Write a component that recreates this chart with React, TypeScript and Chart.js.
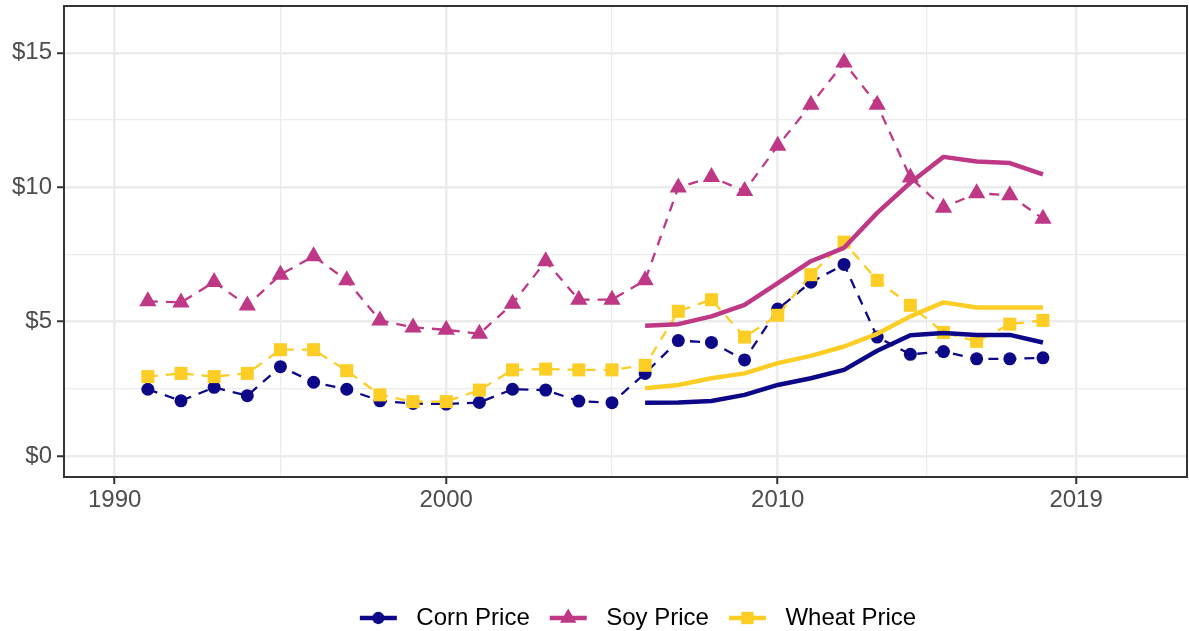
import React, { useEffect, useRef } from 'react';
import { Chart, registerables } from 'chart.js';

Chart.register(...registerables);

const FONT = '"Liberation Sans", Arial, Helvetica, sans-serif';

// ---- data ----
const years = [1991, 1992, 1993, 1994, 1995, 1996, 1997, 1998, 1999, 2000, 2001, 2002, 2003, 2004, 2005, 2006, 2007, 2008, 2009, 2010, 2011, 2012, 2013, 2014, 2015, 2016, 2017, 2018];
const cornPrice = [2.49, 2.06, 2.56, 2.25, 3.33, 2.75, 2.49, 2.06, 1.96, 1.94, 2.0, 2.49, 2.46, 2.05, 1.99, 3.08, 4.3, 4.23, 3.58, 5.47, 6.47, 7.13, 4.43, 3.79, 3.89, 3.62, 3.62, 3.66];
const soyPrice = [5.76, 5.72, 6.48, 5.6, 6.75, 7.44, 6.54, 5.05, 4.79, 4.7, 4.55, 5.67, 7.25, 5.82, 5.82, 6.54, 9.99, 10.38, 9.86, 11.54, 13.07, 14.64, 13.07, 10.36, 9.24, 9.78, 9.7, 8.83];
const wheatPrice = [2.96, 3.08, 2.96, 3.08, 3.96, 3.96, 3.18, 2.28, 2.03, 2.03, 2.46, 3.21, 3.24, 3.21, 3.21, 3.38, 5.39, 5.82, 4.43, 5.24, 6.75, 7.96, 6.54, 5.61, 4.6, 4.27, 4.91, 5.05];

const trendYears = [2006, 2007, 2008, 2009, 2010, 2011, 2012, 2013, 2014, 2015, 2016, 2017, 2018];
const cornTrend = [1.99, 2.0, 2.05, 2.28, 2.65, 2.9, 3.21, 3.92, 4.5, 4.58, 4.51, 4.51, 4.23];
const soyTrend = [4.85, 4.91, 5.2, 5.63, 6.44, 7.25, 7.75, 9.05, 10.17, 11.13, 10.96, 10.9, 10.48];
const wheatTrend = [2.53, 2.65, 2.9, 3.08, 3.46, 3.73, 4.08, 4.55, 5.2, 5.72, 5.53, 5.53, 5.53];

const seriesNames = ['Corn Price', 'Soy Price', 'Wheat Price'];

const xMajorTicks = [1990, 2000, 2010, 2019];
const xMinorTicks = [1995, 2005, 2014.5];
const yMajorTicks = [0, 5, 10, 15];
const yMinorTicks = [2.5, 7.5, 12.5];

// ---- styles ----
const COLORS = ['#0D0887', '#BE3885', '#FCCD25'];
const SHAPES = ['circle', 'triangle', 'rect'];
const RADII = [6.5, 10, 9.2];
const X_MIN = 1988.471;
const X_MAX = 2022.345;
const Y_MIN = -0.773;
const Y_MAX = 16.741;

const toXY = (xs: number[], ys: number[]) => xs.map((x, i) => ({ x, y: ys[i] }));

function drawMarker(ctx: CanvasRenderingContext2D, shape: string, x: number, y: number, r: number, color: string) {
  ctx.fillStyle = color;
  ctx.beginPath();
  if (shape === 'circle') {
    ctx.arc(x, y, r, 0, Math.PI * 2);
  } else if (shape === 'triangle') {
    ctx.moveTo(x, y - r);
    ctx.lineTo(x + r * Math.sin((2 * Math.PI) / 3), y - r * Math.cos((2 * Math.PI) / 3));
    ctx.lineTo(x - r * Math.sin((2 * Math.PI) / 3), y - r * Math.cos((2 * Math.PI) / 3));
    ctx.closePath();
  } else {
    const h = r * Math.SQRT1_2;
    ctx.rect(x - h, y - h, 2 * h, 2 * h);
  }
  ctx.fill();
}

const panelBorder = {
  id: 'panelBorder',
  afterDatasetsDraw(chart: any) {
    const { ctx, chartArea } = chart;
    ctx.save();
    ctx.strokeStyle = '#333333';
    ctx.lineWidth = 2;
    ctx.strokeRect(chartArea.left, chartArea.top, chartArea.right - chartArea.left, chartArea.bottom - chartArea.top);
    ctx.restore();
  },
};

const ggLegend = {
  id: 'ggLegend',
  afterDraw(chart: any) {
    const ctx: CanvasRenderingContext2D = chart.ctx;
    ctx.save();
    ctx.font = `24px ${FONT}`;
    ctx.textBaseline = 'middle';
    ctx.textAlign = 'left';
    const keyLen = 37;
    const textGap = 19.5;
    const itemGap = 20;
    const widths = seriesNames.map((n) => ctx.measureText(n).width);
    const total = widths.reduce((s, w) => s + keyLen + textGap + w, 0) + itemGap * (seriesNames.length - 1);
    const center = (chart.chartArea.left + chart.chartArea.right) / 2 + 12.5;
    let x = center - total / 2;
    const y = 618;
    seriesNames.forEach((name, i) => {
      ctx.strokeStyle = COLORS[i];
      ctx.lineWidth = 4.5;
      ctx.beginPath();
      ctx.moveTo(x, y);
      ctx.lineTo(x + keyLen, y);
      ctx.stroke();
      drawMarker(ctx, SHAPES[i], x + keyLen / 2, y, RADII[i] * 0.95, COLORS[i]);
      const tx = x + keyLen + textGap;
      ctx.fillStyle = '#000000';
      ctx.fillText(name, tx, y);
      x = tx + widths[i] + itemGap;
    });
    ctx.restore();
  },
};

const zeroPadding = (scale: any) => {
  scale.paddingTop = 0;
  scale.paddingBottom = 0;
  scale.paddingLeft = 0;
  scale.paddingRight = 0;
};

export default function App() {
  const canvasRef = useRef<HTMLCanvasElement | null>(null);

  useEffect(() => {
    document.body.style.margin = '0';
    const canvas = canvasRef.current;
    if (!canvas) return;
    Chart.defaults.font.family = FONT;

    const dashed = [cornPrice, soyPrice, wheatPrice].map((vals, i) => ({
      label: seriesNames[i],
      data: toXY(years, vals),
      borderColor: COLORS[i],
      backgroundColor: COLORS[i],
      borderWidth: 2.3,
      borderDash: [10, 8],
      pointStyle: SHAPES[i],
      pointRadius: RADII[i],
      pointHoverRadius: RADII[i],
      pointBorderWidth: 0,
      pointBackgroundColor: COLORS[i],
      tension: 0,
      order: 7 - i,
    }));
    const solid = [cornTrend, soyTrend, wheatTrend].map((vals, i) => ({
      label: seriesNames[i] + ' trend',
      data: toXY(trendYears, vals),
      borderColor: COLORS[i],
      backgroundColor: COLORS[i],
      borderWidth: 4.5,
      borderJoinStyle: 'round',
      pointRadius: 0,
      pointHoverRadius: 0,
      tension: 0,
      order: 3 - i,
    }));

    const isIn = (arr: number[], v: number) => arr.some((a) => Math.abs(a - v) < 1e-6);

    const chart = new Chart(canvas, {
      type: 'line',
      data: { datasets: [...dashed, ...solid] as any },
      options: {
        animation: false,
        responsive: false,
        devicePixelRatio: 1,
        layout: { autoPadding: false, padding: { top: 6, right: 2, left: 0, bottom: 0 } },
        plugins: { legend: { display: false }, tooltip: { enabled: false } },
        events: [],
        scales: {
          x: {
            type: 'linear',
            min: X_MIN,
            max: X_MAX,
            afterBuildTicks: (scale: any) => {
              scale.ticks = [...xMajorTicks, ...xMinorTicks].sort((a, b) => a - b).map((v) => ({ value: v }));
            },
            afterFit: (scale: any) => {
              scale.height = 154;
              zeroPadding(scale);
            },
            ticks: {
              autoSkip: false,
              maxRotation: 0,
              padding: 2,
              color: '#4D4D4D',
              font: { size: 24, family: FONT },
              callback: (v: any) => (isIn(xMajorTicks, Number(v)) ? String(v) : ''),
            },
            grid: {
              color: '#EBEBEB',
              lineWidth: (c: any) => (c.tick && isIn(xMajorTicks, c.tick.value) ? 2.5 : 1.2),
              tickColor: (c: any) => (c.tick && isIn(xMajorTicks, c.tick.value) ? '#333333' : 'rgba(0,0,0,0)'),
              tickWidth: 2,
              tickLength: 7,
            },
            border: { display: false },
          },
          y: {
            type: 'linear',
            min: Y_MIN,
            max: Y_MAX,
            afterBuildTicks: (scale: any) => {
              scale.ticks = [...yMajorTicks, ...yMinorTicks].sort((a, b) => a - b).map((v) => ({ value: v }));
            },
            afterFit: (scale: any) => {
              scale.width = 64;
              zeroPadding(scale);
            },
            ticks: {
              autoSkip: false,
              padding: 5,
              color: '#4D4D4D',
              font: { size: 24, family: FONT },
              callback: (v: any) => (isIn(yMajorTicks, Number(v)) ? '$' + v : ''),
            },
            grid: {
              color: '#EBEBEB',
              lineWidth: (c: any) => (c.tick && isIn(yMajorTicks, c.tick.value) ? 2.5 : 1.2),
              tickColor: (c: any) => (c.tick && isIn(yMajorTicks, c.tick.value) ? '#333333' : 'rgba(0,0,0,0)'),
              tickWidth: 2,
              tickLength: 7,
            },
            border: { display: false },
          },
        },
      } as any,
      plugins: [panelBorder, ggLegend],
    });

    return () => {
      chart.destroy();
    };
  }, []);

  return (
    <div style={{ width: 1189, height: 631, background: '#ffffff' }}>
      <canvas ref={canvasRef} width={1189} height={631} style={{ display: 'block' }} />
    </div>
  );
}
